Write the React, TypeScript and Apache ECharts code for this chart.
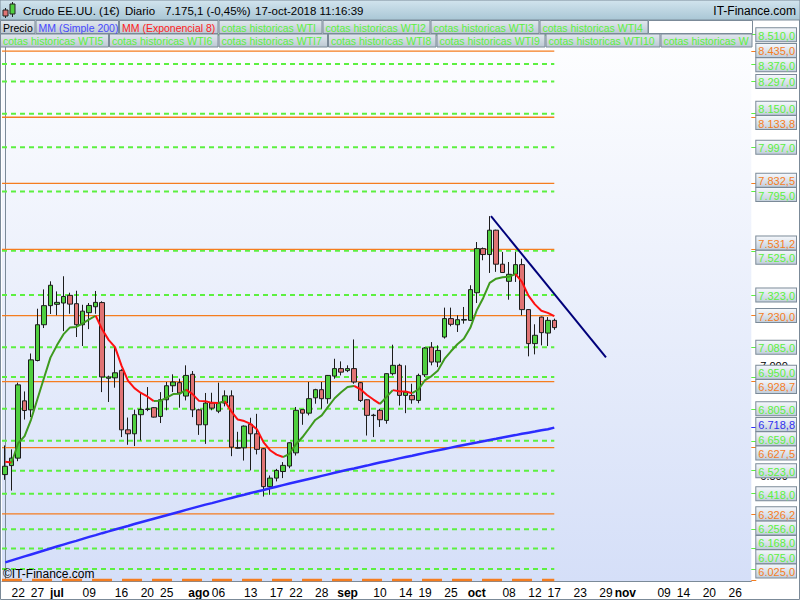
import React, { useEffect, useRef } from 'react';
import * as echarts from 'echarts';

// ---------- data ----------
const START_DATE = '2018-06-20';
const DAY_COUNT = 116;

const TICK_DATES = ['2018-06-22', '2018-06-27', '2018-07-02', '2018-07-09', '2018-07-16', '2018-07-20', '2018-07-25', '2018-08-01', '2018-08-06', '2018-08-13', '2018-08-17', '2018-08-22', '2018-08-28', '2018-09-03', '2018-09-10', '2018-09-14', '2018-09-19', '2018-09-25', '2018-10-01', '2018-10-08', '2018-10-12', '2018-10-17', '2018-10-23', '2018-10-29', '2018-11-01', '2018-11-09', '2018-11-14', '2018-11-20', '2018-11-26'];
const TICK_TEXTS = ['22', '27', 'jul', '09', '16', '20', '25', 'ago', '06', '13', '17', '22', '28', 'sep', '10', '14', '19', '25', 'oct', '08', '12', '17', '23', '29', 'nov', '09', '14', '20', '26'];
const MONTH_TEXTS = ['jul', 'ago', 'sep', 'oct', 'nov'];

const OPEN = [
  6505, 6546, 6580, 6841, 6800, 7025, 7188, 7275, 7281, 7287,
  7322, 7284, 7188, 7243, 7270, 7289, 6944, 6946, 6980, 6709,
  6691, 6778, 6802, 6810, 6770, 6846, 6910, 6924, 6863, 6962,
  6800, 6732, 6831, 6794, 6831, 6864, 6625, 6627, 6734, 6691,
  6623, 6450, 6489, 6519, 6544, 6604, 6801, 6785, 6855, 6892,
  6851, 6954, 6988, 6979, 6988, 6924, 6846, 6774, 6798, 6752,
  6965, 7003, 6866, 6866, 6843, 6960, 7086, 7018, 7132, 7216,
  7188, 7209, 7208, 7334, 7535, 7508, 7619, 7464, 7386, 7418,
  7462, 7257, 7102, 7223, 7150, 7208,
];
const CLOSE = [
  6543, 6580, 6914, 6797, 7028, 7188, 7275, 7368, 7290, 7317,
  7282, 7188, 7250, 7276, 7290, 6950, 6950, 6969, 6709, 6691,
  6778, 6802, 6804, 6767, 6846, 6910, 6927, 6877, 6957, 6800,
  6732, 6831, 6808, 6831, 6864, 6630, 6628, 6726, 6691, 6620,
  6450, 6489, 6524, 6547, 6650, 6798, 6785, 6851, 6892, 6851,
  6957, 6988, 6972, 6988, 6927, 6843, 6775, 6776, 6755, 6965,
  7003, 6866, 6881, 6846, 6957, 7082, 7018, 7071, 7216, 7190,
  7211, 7212, 7348, 7535, 7508, 7619, 7464, 7426, 7418, 7462,
  7257, 7102, 7140, 7152, 7208, 7175,
];
const HIGH = [
  6638, 6620, 6924, 6884, 7057, 7261, 7349, 7386, 7340, 7409,
  7334, 7343, 7279, 7287, 7342, 7295, 6956, 7086, 6985, 6765,
  6801, 6881, 6904, 6813, 6881, 6927, 6962, 6942, 7003, 6977,
  6805, 6877, 6878, 6924, 6889, 6889, 6700, 6729, 6764, 6782,
  6626, 6501, 6531, 6562, 6652, 6813, 6801, 6927, 6896, 6927,
  6959, 7033, 7021, 7003, 7121, 6927, 6848, 6782, 6805, 6967,
  7097, 7010, 7003, 6919, 6965, 7086, 7109, 7094, 7266, 7266,
  7231, 7269, 7368, 7565, 7540, 7683, 7621, 7520, 7474, 7520,
  7489, 7259, 7190, 7225, 7223, 7216,
];
const LOW = [
  6481, 6432, 6566, 6756, 6767, 7021, 7173, 7237, 7231, 7159,
  7238, 7132, 7091, 7168, 7238, 6881, 6836, 6901, 6676, 6641,
  6635, 6661, 6794, 6765, 6740, 6798, 6881, 6810, 6843, 6767,
  6686, 6645, 6798, 6785, 6816, 6589, 6623, 6569, 6524, 6597,
  6405, 6413, 6474, 6489, 6534, 6592, 6732, 6775, 6828, 6805,
  6828, 6942, 6957, 6972, 6919, 6836, 6683, 6676, 6722, 6737,
  6957, 6820, 6785, 6828, 6830, 6950, 7003, 6995, 7125, 7181,
  7155, 7193, 7205, 7287, 7482, 7424, 7429, 7424, 7302, 7383,
  7231, 7044, 7053, 7094, 7091, 7165,
];
const EMA8 = [
  6563, 6560, 6648, 6680, 6756, 6851, 6945, 7038, 7094, 7144,
  7175, 7178, 7194, 7212, 7229, 7167, 7119, 7086, 7002, 6933,
  6899, 6877, 6861, 6840, 6841, 6856, 6872, 6873, 6892, 6872,
  6841, 6839, 6832, 6831, 6839, 6793, 6756, 6749, 6736, 6710,
  6652, 6616, 6596, 6585, 6599, 6643, 6675, 6714, 6754, 6775,
  6815, 6853, 6880, 6904, 6909, 6894, 6868, 6847, 6827, 6858,
  6890, 6885, 6884, 6876, 6894, 6936, 6954, 6980, 7032, 7067,
  7099, 7124, 7174, 7254, 7310, 7379, 7398, 7404, 7407, 7419,
  7383, 7321, 7281, 7252, 7242, 7227,
];
const SMA200 = [
  6105, 6114, 6123, 6132, 6141, 6150, 6159, 6168, 6177, 6186,
  6195, 6203, 6212, 6221, 6229, 6238, 6246, 6255, 6263, 6271,
  6280, 6288, 6296, 6304, 6312, 6320, 6328, 6336, 6344, 6352,
  6360, 6368, 6375, 6383, 6391, 6398, 6406, 6413, 6421, 6428,
  6435, 6443, 6450, 6457, 6464, 6471, 6478, 6485, 6492, 6499,
  6506, 6513, 6520, 6527, 6533, 6540, 6546, 6553, 6560, 6566,
  6572, 6579, 6585, 6591, 6598, 6604, 6610, 6616, 6622, 6628,
  6634, 6640, 6646, 6651, 6657, 6663, 6668, 6674, 6680, 6685,
  6691, 6696, 6701, 6707, 6712, 6719,
];

const GREEN_LEVELS = [8510.0, 8376.0, 8297.0, 8150.0, 7997.0, 7795.0, 7525.0, 7323.0, 7085.0, 6950.0, 6805.0, 6659.0, 6523.0, 6418.0, 6256.0, 6168.0, 6075.0];
const ORANGE_LEVELS = [8435.0, 8133.8, 7832.5, 7531.2, 7230.0, 6928.7, 6627.5, 6326.2, 6025.0];
const SMA_LAST = [6718.8];
const BASE_TICKS = [6500, 7000];
const TREND_X = [75.2, 93];
const TREND_Y = [7683, 7039];
const LEVEL_START = -0.5;
const LEVEL_END = 85;

const Y_MIN = 6020;
const Y_MAX = 8577;

// ---------- layout / styles ----------
const GRID_TOP = 20;
const GRID_H = 561;
const BOX_H = 14.3;
const BOX_MAX_PX = 571;
const FONT = '"Liberation Sans", Arial, sans-serif';
const GREEN = '#5cf040';
const ORANGE = '#f57d1f';
const BLUE = '#2c2cff';
const EMA_UP = '#3e9a1e';
const EMA_DOWN = '#ff1010';
const AXIS_GRAY = '#7b8a98';

function weekdays(start: string, n: number): string[] {
  const out: string[] = [];
  const d = new Date(start + 'T00:00:00Z');
  while (out.length < n) {
    const w = d.getUTCDay();
    if (w !== 0 && w !== 6) out.push(d.toISOString().slice(0, 10));
    d.setUTCDate(d.getUTCDate() + 1);
  }
  return out;
}

function fmtEs(v: number, dec: number): string {
  const s = v.toFixed(dec);
  const [ip, fp] = s.split('.');
  const is = ip.replace(/\B(?=(\d{3})+(?!\d))/g, '.');
  return fp ? is + ',' + fp : is;
}

function grad(a: string, b: string) {
  return new echarts.graphic.LinearGradient(0, 0, 0, 1, [
    { offset: 0, color: a },
    { offset: 1, color: b },
  ]);
}

// spread the right-hand value boxes so they do not cover one another
function spreadLabels(values: number[]): number[] {
  const toPx = (v: number) => GRID_TOP + ((Y_MAX - v) / (Y_MAX - Y_MIN)) * GRID_H;
  const fromPx = (p: number) => Y_MAX - ((p - GRID_TOP) / GRID_H) * (Y_MAX - Y_MIN);
  const order = values.map((_, i) => i).sort((a, b) => values[b] - values[a]);
  const p = values.map(toPx);
  for (let it = 0; it < 400; it++) {
    for (let k = 0; k + 1 < order.length; k++) {
      const i = order[k];
      const j = order[k + 1];
      const d = p[j] - p[i];
      if (d < BOX_H) {
        const s = (BOX_H - d) / 2;
        p[i] -= s;
        p[j] += s;
      }
    }
    for (const i of order) if (p[i] > BOX_MAX_PX) p[i] = BOX_MAX_PX;
  }
  return p.map(fromPx);
}

function buildOption() {
  const cats = weekdays(START_DATE, DAY_COUNT);
  const tickMap: Record<string, string> = {};
  TICK_DATES.forEach((d, i) => (tickMap[d] = TICK_TEXTS[i]));
  const showTick = (_i: number, v: string) => tickMap[v] !== undefined;

  const candles = OPEN.map((o, i) => [o, CLOSE[i], LOW[i], HIGH[i]]);

  // EMA colored by slope
  const runs: { color: string; pts: number[][] }[] = [];
  for (let k = 1; k < EMA8.length; k++) {
    const color = EMA8[k] > EMA8[k - 1] ? EMA_UP : EMA_DOWN;
    const last = runs[runs.length - 1];
    if (last && last.color === color) last.pts.push([k, EMA8[k]]);
    else runs.push({ color, pts: [[k - 1, EMA8[k - 1]], [k, EMA8[k]]] });
  }

  // label positions
  const allVals = [...GREEN_LEVELS, ...ORANGE_LEVELS, ...SMA_LAST];
  const spread = spreadLabels(allVals);
  const gPos = spread.slice(0, GREEN_LEVELS.length);
  const oPos = spread.slice(GREEN_LEVELS.length, GREEN_LEVELS.length + ORANGE_LEVELS.length);
  const bPos = spread.slice(GREEN_LEVELS.length + ORANGE_LEVELS.length);
  // split the green boxes over two axes so neighbours never sit on one axis
  const gEvenVals = GREEN_LEVELS.filter((_, i) => i % 2 === 0);
  const gEvenPos = gPos.filter((_, i) => i % 2 === 0);
  const gOddVals = GREEN_LEVELS.filter((_, i) => i % 2 === 1);
  const gOddPos = gPos.filter((_, i) => i % 2 === 1);

  const series: any[] = [];
  GREEN_LEVELS.forEach((v) =>
    series.push({
      type: 'line', xAxisIndex: 1, yAxisIndex: 0, silent: true, symbol: 'none', z: 1,
      data: [[LEVEL_START, v], [LEVEL_END, v]],
      lineStyle: { color: GREEN, width: 2, type: [5, 4] },
    }),
  );
  ORANGE_LEVELS.forEach((v, i) =>
    series.push({
      type: 'line', xAxisIndex: 1, yAxisIndex: 0, silent: true, symbol: 'none', z: 1,
      clip: false,
      data: [[LEVEL_START, v], [LEVEL_END, v]],
      lineStyle: i === ORANGE_LEVELS.length - 1
        ? { color: ORANGE, width: 2.5, type: [20, 10] }
        : { color: ORANGE, width: 1.3 },
    }),
  );
  series.push({
    type: 'candlestick', xAxisIndex: 0, yAxisIndex: 0, z: 3, barWidth: 5,
    data: candles,
    itemStyle: { color: '#4fcf3f', color0: '#e07474', borderColor: '#1c1c1c', borderColor0: '#1c1c1c', borderWidth: 1 },
  });
  series.push({
    type: 'line', xAxisIndex: 1, yAxisIndex: 0, z: 4, symbol: 'none', silent: true,
    data: SMA200.map((v, i) => [i, v]),
    lineStyle: { color: BLUE, width: 2.5 },
  });
  runs.forEach((r) =>
    series.push({
      type: 'line', xAxisIndex: 1, yAxisIndex: 0, z: 4, symbol: 'none', silent: true,
      data: r.pts, lineStyle: { color: r.color, width: 2 },
    }),
  );
  series.push({
    type: 'line', xAxisIndex: 1, yAxisIndex: 0, z: 5, symbol: 'none', silent: true,
    data: TREND_X.map((x, i) => [x, TREND_Y[i]]),
    lineStyle: { color: '#00007a', width: 2 },
  });

  const yBase = {
    type: 'value', min: Y_MIN, max: Y_MAX, position: 'right',
    splitLine: { show: false }, axisLine: { show: false },
  };
  const boxAxis = (vals: number[], pos: number[], col: string, tickCol: string, z: number) => {
    const textAt = new Map<number, string>();
    pos.forEach((p, i) => textAt.set(p, fmtEs(vals[i], 1)));
    const lookup = (v: number) => {
      if (textAt.has(v)) return textAt.get(v)!;
      let best = 0;
      pos.forEach((p, i) => { if (Math.abs(p - v) < Math.abs(pos[best] - v)) best = i; });
      return fmtEs(vals[best], 1);
    };
    return {
      ...yBase,
      z,
      axisTick: { show: true, customValues: vals, length: 5, lineStyle: { color: tickCol, width: 1 } },
      axisLabel: {
        customValues: pos, margin: 5, hideOverlap: false, showMinLabel: true, showMaxLabel: true,
        formatter: (v: number) => '{b|' + lookup(v) + '}',
        rich: {
          b: {
            color: col, fontSize: 11, fontFamily: FONT, backgroundColor: grad('#f4f7fb', '#c3cfdc'),
            borderColor: AXIS_GRAY, borderWidth: 1, padding: [2, 1, 0, 2], lineHeight: 11,
          },
        },
      },
    };
  };

  const graphic: any[] = [];
  // title bar
  graphic.push({ type: 'rect', z: 100, shape: { x: 0, y: 0, width: 800, height: 20 }, style: { fill: grad('#d2e4ee', '#a9c6d5'), stroke: AXIS_GRAY, lineWidth: 1 } });
  // icon
  graphic.push({ type: 'line', z: 101, shape: { x1: 5.5, y1: 8, x2: 5.5, y2: 18 }, style: { stroke: '#222', lineWidth: 1 } });
  graphic.push({ type: 'rect', z: 101, shape: { x: 3, y: 10, width: 5, height: 6 }, style: { fill: '#e07474', stroke: '#222', lineWidth: 1 } });
  graphic.push({ type: 'line', z: 101, shape: { x1: 12.5, y1: 2, x2: 12.5, y2: 17 }, style: { stroke: '#222', lineWidth: 1 } });
  graphic.push({ type: 'rect', z: 101, shape: { x: 10, y: 4, width: 5, height: 10 }, style: { fill: '#4fcf3f', stroke: '#222', lineWidth: 1 } });
  const titleParts: [string, number][] = [
    ['Crudo EE.UU. (1€)', 23], ['Diario', 125], ['7.175,1 (-0,45%)', 165], ['17-oct-2018 11:16:39', 255],
  ];
  titleParts.forEach(([t, x]) =>
    graphic.push({ type: 'text', z: 101, x, y: 10.5, style: { text: t, fill: '#000', fontSize: 11.5, fontFamily: FONT, verticalAlign: 'middle' } }),
  );
  graphic.push({ type: 'text', z: 101, x: 796, y: 10.5, style: { text: 'IT-Finance.com', fill: '#000', fontSize: 12, fontFamily: FONT, align: 'right', verticalAlign: 'middle' } });

  // legend rows
  const legendRows: [string, string, number, number, number][] = [
    ['Precio', '#000000', 0, 35.5, 20],
    ['MM (Simple 200)', '#4848ff', 35.5, 119, 20],
    ['MM (Exponencial 8)', '#ff2020', 119, 218.5, 20],
    ['cotas historicas WTI', GREEN, 218.5, 322.5, 20],
    ['cotas historicas WTI2', GREEN, 322.5, 430.5, 20],
    ['cotas historicas WTI3', GREEN, 430.5, 539.5, 20],
    ['cotas historicas WTI4', GREEN, 539.5, 648.5, 20],
    ['cotas historicas WTI5', GREEN, 0, 109, 33.5],
    ['cotas historicas WTI6', GREEN, 109, 218.5, 33.5],
    ['cotas historicas WTI7', GREEN, 218.5, 328, 33.5],
    ['cotas historicas WTI8', GREEN, 328, 436.5, 33.5],
    ['cotas historicas WTI9', GREEN, 436.5, 545.5, 33.5],
    ['cotas historicas WTI10', GREEN, 545.5, 660.5, 33.5],
    ['cotas historicas W', GREEN, 660.5, 752.5, 33.5],
  ];
  graphic.push({ type: 'rect', z: 100, shape: { x: 648.5, y: 20.5, width: 104, height: 13 }, style: { fill: '#ffffff', stroke: AXIS_GRAY, lineWidth: 1 } });
  legendRows.forEach(([t, c, x0, x1, y]) => {
    graphic.push({ type: 'rect', z: 100, shape: { x: x0 + 0.5, y: y + 0.5, width: x1 - x0 - 1, height: 13 }, style: { fill: grad('#e2e8ee', '#bcc8d3'), stroke: AXIS_GRAY, lineWidth: 1 } });
    graphic.push({ type: 'text', z: 101, x: x0 + 3, y: y + 7.5, style: { text: t, fill: c, fontSize: 10.5, fontFamily: FONT, verticalAlign: 'middle' } });
  });
  // watermark
  graphic.push({ type: 'text', z: 50, x: 3, y: 574, style: { text: '©IT-Finance.com', fill: '#000', fontSize: 12, fontFamily: FONT, verticalAlign: 'middle' } });
  // outer frame
  graphic.push({ type: 'rect', z: 99, shape: { x: 0.5, y: 0.5, width: 799, height: 599 }, style: { fill: 'none', stroke: AXIS_GRAY, lineWidth: 1 } });

  return {
    animation: false,
    backgroundColor: '#ffffff',
    grid: {
      left: 2, right: 47.5, top: GRID_TOP, bottom: 600 - GRID_TOP - GRID_H, show: true,
      backgroundColor: grad('#ffffff', '#d5dff8'), borderWidth: 0,
    },
    xAxis: [
      {
        type: 'category', data: cats, boundaryGap: true,
        axisLine: { lineStyle: { color: AXIS_GRAY } },
        axisTick: { interval: showTick, alignWithLabel: true, length: 4, lineStyle: { color: AXIS_GRAY } },
        axisLabel: {
          interval: showTick, color: '#000', fontSize: 12, fontFamily: FONT, margin: 6, hideOverlap: false,
          formatter: (v: string) => {
            const t = tickMap[v] ?? '';
            return MONTH_TEXTS.includes(t) ? '{m|' + t + '}' : t;
          },
          rich: { m: { fontWeight: 'bold', fontSize: 12, fontFamily: FONT, color: '#000' } },
        },
        splitLine: { show: false },
      },
      { type: 'value', min: -0.5, max: DAY_COUNT - 0.5, show: false },
    ],
    yAxis: [
      {
        ...yBase, z: 1,
        axisLine: { show: true, lineStyle: { color: AXIS_GRAY } },
        axisTick: { show: false },
        axisLabel: { customValues: BASE_TICKS, formatter: (v: number) => fmtEs(v, 0), color: '#000', fontSize: 11, fontFamily: FONT, margin: 9, hideOverlap: false, showMinLabel: true, showMaxLabel: true },
      },
      boxAxis(gEvenVals, gEvenPos, GREEN, GREEN, 2),
      boxAxis(gOddVals, gOddPos, GREEN, GREEN, 2),
      boxAxis(ORANGE_LEVELS, oPos, ORANGE, ORANGE, 3),
      boxAxis(SMA_LAST, bPos, '#3030ee', BLUE, 4),
    ],
    series,
    graphic,
  };
}

export default function App() {
  const ref = useRef<HTMLDivElement>(null);
  useEffect(() => {
    const chart = echarts.init(ref.current!, null, { renderer: 'svg' });
    chart.setOption(buildOption() as any);
    return () => chart.dispose();
  }, []);
  return (
    <div
      ref={ref}
      style={{ position: 'fixed', left: 0, top: 0, width: 800, height: 600, background: '#fff' }}
    />
  );
}
